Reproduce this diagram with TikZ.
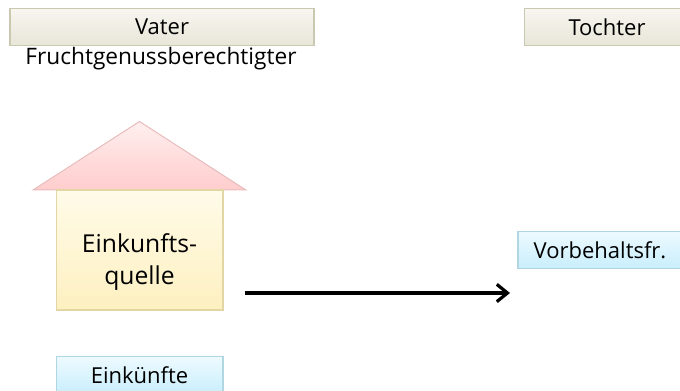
\documentclass[tikz,border=0pt]{standalone}
\usepackage{xcolor}
\usepackage{fontspec}
\setmainfont{Open Sans}
\usetikzlibrary{arrows.meta}
\definecolor{greyline}{HTML}{C9C8B0}
\definecolor{greytop}{HTML}{F7F6F0}
\definecolor{greybot}{HTML}{E8E6D8}
\definecolor{blueline}{HTML}{B0D6E2}
\definecolor{bluetop}{HTML}{EEFAFF}
\definecolor{bluebot}{HTML}{C8EEFC}
\definecolor{yellowline}{HTML}{E2D6A4}
\definecolor{yellowtop}{HTML}{FFFBE9}
\definecolor{yellowbot}{HTML}{FDF0C0}
\definecolor{redline}{HTML}{E8BCBC}
\definecolor{redtop}{HTML}{FFEFEF}
\definecolor{redbot}{HTML}{FFCCCC}
\tikzset{
  namebox/.style={draw=greyline,line width=1pt,top color=greytop,bottom color=greybot,minimum width=228pt,minimum height=28pt,inner sep=0pt,font=\fontsize{16.5}{20}\selectfont},
  incomebox/.style={draw=blueline,line width=1pt,top color=bluetop,bottom color=bluebot,minimum width=125pt,minimum height=28pt,inner sep=0pt,font=\fontsize{16.5}{20}\selectfont},
  housebox/.style={draw=yellowline,line width=1pt,top color=yellowtop,bottom color=yellowbot,minimum width=125pt,minimum height=90pt,inner sep=0pt},
  plaintext/.style={inner sep=0pt,font=\fontsize{17}{20}\selectfont}
}
\begin{document}
\begin{tikzpicture}[x=0.75pt,y=-0.75pt]
\useasboundingbox (0,0) rectangle (680,391);
% top row
\node[namebox] (vater) at (162,27) {Vater};
\node[namebox,minimum width=124pt] (tochter) at (607,27) {Tochter};
\node[plaintext] (nutzer) at (161,59) {Fruchtgenussberechtigter};
% house
\draw[draw=redline,line width=0.75pt,top color=redtop,bottom color=redbot] (139.5,121.5) -- (246,190) -- (33,190) -- cycle;
\node[housebox] (quelle) at (139.5,250) {};
\node[plaintext,align=center,font=\fontsize{18.5}{24}\selectfont] (quelletext) at (139.5,262) {Einkunfts-\\quelle};
% income boxes
\node[incomebox] (einkuenfte) at (139.5,375) {Eink\"unfte};
\node[incomebox,minimum width=123pt] (vorbehalt) at (600,250) {Vorbehaltsfr.};
% transfer
\coordinate (von) at (245,293);
\coordinate (nach) at (510,293);
\draw[-{Straight Barb[length=8pt,width=13pt]},line width=2.4pt] (von) -- (nach);
\end{tikzpicture}
\end{document}
